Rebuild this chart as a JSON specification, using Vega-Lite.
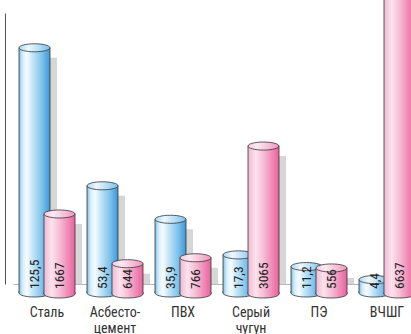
{
  "$schema": "https://vega.github.io/schema/vega-lite/v6.json",
  "width": 408,
  "height": 271,
  "autosize": {"type": "none"},
  "padding": {"left": 13, "top": 13, "right": 0, "bottom": 50},
  "background": "#ffffff",
  "data": {
    "values": [
      {"cat": "Сталь", "blue": 125.5, "pink": 1667},
      {"cat": "Асбесто-цемент", "blue": 53.4, "pink": 644},
      {"cat": "ПВХ", "blue": 35.9, "pink": 766},
      {"cat": "Серый чугун", "blue": 17.3, "pink": 3065},
      {"cat": "ПЭ", "blue": 11.2, "pink": 556},
      {"cat": "ВЧШГ", "blue": 4.4, "pink": 6637}
    ]
  },
  "config": {
    "view": {"stroke": null},
    "locale": {"number": {"decimal": ",", "thousands": "", "grouping": [3], "currency": ["", ""]}},
    "axisY": {"ticks": false, "labels": false, "grid": false, "domainColor": "#555555", "domainWidth": 1, "offset": 8}
  },
  "encoding": {
    "x": {
      "field": "cat",
      "type": "nominal",
      "sort": null,
      "title": null,
      "scale": {"paddingInner": 0, "paddingOuter": 0},
      "axis": {
        "domain": true,
        "domainColor": "#b8b8b8",
        "ticks": false,
        "labelPadding": 21,
        "labelFontSize": 14,
        "labelColor": "#333333",
        "labelFont": "Liberation Sans Narrow, Roboto Condensed, DejaVu Sans Condensed, sans-serif",
        "labelAngle": 0,
        "labelLineHeight": 16,
        "labelOverlap": false,
        "labelBound": false,
        "labelExpr": "datum.label == 'Асбесто-цемент' ? ['Асбесто-', 'цемент'] : split(datum.label, ' ')"
      }
    }
  },
  "layer": [
    {
      "layer": [
        {
          "mark": {"type": "bar", "width": 31, "xOffset": -5.5, "yOffset": 10, "fill": "#d6d6d6"},
          "encoding": {
            "y": {"field": "blue", "type": "quantitative", "title": null, "scale": {"domain": [2.09, 143.68], "zero": false, "nice": false}},
            "y2": {"datum": 2.09}
          }
        },
        {
          "mark": {
            "type": "bar", "width": 31, "xOffset": -12.5, "stroke": "#333333", "strokeWidth": 0.8,
            "fill": {"gradient": "linear", "x1": 0, "y1": 0, "x2": 1, "y2": 0, "stops": [
              {"offset": 0, "color": "#7fc0ea"}, {"offset": 0.12, "color": "#d6eefb"}, {"offset": 0.25, "color": "#f6fcff"},
              {"offset": 0.45, "color": "#c2e4f7"}, {"offset": 0.75, "color": "#7cc1ea"}, {"offset": 1, "color": "#3d97d8"}]}
          },
          "encoding": {
            "y": {"field": "blue", "type": "quantitative", "title": null, "scale": {"domain": [2.09, 143.68], "zero": false, "nice": false}},
            "y2": {"datum": -2.61}
          }
        },
        {
          "mark": {
            "type": "point", "shape": "M-1,-0.12L-1,0A1,0.26 0 0,0 1,0L1,-0.12", "size": 961, "xOffset": -12.5,
            "filled": true, "opacity": 1, "stroke": "#333333", "strokeWidth": 0.8,
            "fill": {"gradient": "linear", "x1": 0, "y1": 0, "x2": 1, "y2": 0, "stops": [
              {"offset": 0, "color": "#7fc0ea"}, {"offset": 0.12, "color": "#d6eefb"}, {"offset": 0.25, "color": "#f6fcff"},
              {"offset": 0.45, "color": "#c2e4f7"}, {"offset": 0.75, "color": "#7cc1ea"}, {"offset": 1, "color": "#3d97d8"}]}
          },
          "encoding": {
            "y": {"datum": -2.61, "type": "quantitative", "title": null, "scale": {"domain": [2.09, 143.68], "zero": false, "nice": false}}
          }
        },
        {
          "mark": {
            "type": "point", "shape": "M-1,0A1,0.26 0 1,1 1,0A1,0.26 0 1,1 -1,0Z", "size": 961, "xOffset": -12.5,
            "filled": true, "opacity": 1, "stroke": "#333333", "strokeWidth": 0.8,
            "fill": {"gradient": "linear", "x1": 0, "y1": 0, "x2": 1, "y2": 0, "stops": [
              {"offset": 0, "color": "#a9d7f2"}, {"offset": 0.3, "color": "#eef8fe"}, {"offset": 1, "color": "#7cc0ea"}]}
          },
          "encoding": {
            "y": {"field": "blue", "type": "quantitative", "title": null, "scale": {"domain": [2.09, 143.68], "zero": false, "nice": false}}
          }
        },
        {
          "mark": {
            "type": "text", "angle": 270, "align": "left", "baseline": "middle", "xOffset": -12.5,
            "fontSize": 13.5, "font": "Liberation Sans Narrow, Roboto Condensed, DejaVu Sans Condensed, sans-serif", "fill": "#222222"
          },
          "encoding": {
            "y": {"datum": -0.52, "type": "quantitative", "title": null, "scale": {"domain": [2.09, 143.68], "zero": false, "nice": false}},
            "text": {"field": "blue", "type": "quantitative", "format": ".1f"}
          }
        }
      ]
    },
    {
      "layer": [
        {
          "mark": {"type": "bar", "width": 31, "xOffset": 19.5, "yOffset": 10, "fill": "#d6d6d6"},
          "encoding": {
            "y": {"field": "pink", "type": "quantitative", "axis": null, "scale": {"domain": [226.3, 5802.5], "zero": false, "nice": false}},
            "y2": {"datum": 226.3}
          }
        },
        {
          "mark": {
            "type": "bar", "width": 31, "xOffset": 12.5, "stroke": "#333333", "strokeWidth": 0.8,
            "fill": {"gradient": "linear", "x1": 0, "y1": 0, "x2": 1, "y2": 0, "stops": [
              {"offset": 0, "color": "#f2b9d2"}, {"offset": 0.25, "color": "#fbe3ee"}, {"offset": 0.5, "color": "#f6bdd6"},
              {"offset": 0.8, "color": "#ef86b3"}, {"offset": 1, "color": "#e9629d"}]}
          },
          "encoding": {
            "y": {"field": "pink", "type": "quantitative", "axis": null, "scale": {"domain": [226.3, 5802.5], "zero": false, "nice": false}},
            "y2": {"datum": 20.6}
          }
        },
        {
          "mark": {
            "type": "point", "shape": "M-1,-0.12L-1,0A1,0.26 0 0,0 1,0L1,-0.12", "size": 961, "xOffset": 12.5,
            "filled": true, "opacity": 1, "stroke": "#333333", "strokeWidth": 0.8,
            "fill": {"gradient": "linear", "x1": 0, "y1": 0, "x2": 1, "y2": 0, "stops": [
              {"offset": 0, "color": "#f2b9d2"}, {"offset": 0.25, "color": "#fbe3ee"}, {"offset": 0.5, "color": "#f6bdd6"},
              {"offset": 0.8, "color": "#ef86b3"}, {"offset": 1, "color": "#e9629d"}]}
          },
          "encoding": {
            "y": {"datum": 20.6, "type": "quantitative", "axis": null, "scale": {"domain": [226.3, 5802.5], "zero": false, "nice": false}}
          }
        },
        {
          "mark": {
            "type": "point", "shape": "M-1,0A1,0.26 0 1,1 1,0A1,0.26 0 1,1 -1,0Z", "size": 961, "xOffset": 12.5,
            "filled": true, "opacity": 1, "stroke": "#333333", "strokeWidth": 0.8,
            "fill": {"gradient": "linear", "x1": 0, "y1": 0, "x2": 1, "y2": 0, "stops": [
              {"offset": 0, "color": "#f6cbe0"}, {"offset": 0.3, "color": "#fce9f2"}, {"offset": 1, "color": "#f096bd"}]}
          },
          "encoding": {
            "y": {"field": "pink", "type": "quantitative", "axis": null, "scale": {"domain": [226.3, 5802.5], "zero": false, "nice": false}}
          }
        },
        {
          "mark": {
            "type": "text", "angle": 270, "align": "left", "baseline": "middle", "xOffset": 12.5,
            "fontSize": 13.5, "font": "Liberation Sans Narrow, Roboto Condensed, DejaVu Sans Condensed, sans-serif", "fill": "#222222"
          },
          "encoding": {
            "y": {"datum": 123.5, "type": "quantitative", "axis": null, "scale": {"domain": [226.3, 5802.5], "zero": false, "nice": false}},
            "text": {"field": "pink", "type": "quantitative", "format": "d"}
          }
        }
      ]
    }
  ],
  "resolve": {"scale": {"y": "independent"}}
}
